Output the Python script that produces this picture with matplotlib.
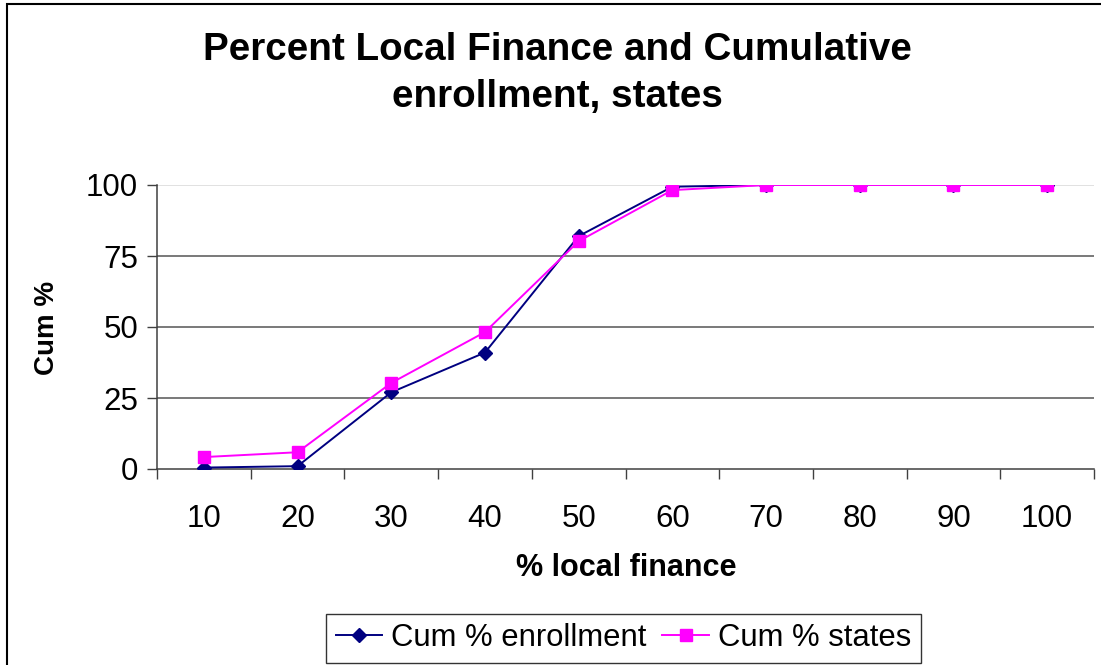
import matplotlib
matplotlib.use('Agg')
import matplotlib.pyplot as plt
from matplotlib.patches import Rectangle

plt.rcParams['font.family'] = ['Liberation Sans', 'DejaVu Sans']

# data
categories = ['10', '20', '30', '40', '50', '60', '70', '80', '90', '100']
cum_enrollment = [0.5, 1.0, 27.0, 41.0, 82.0, 99.4, 100, 100, 100, 100]
cum_states = [4.2, 5.9, 30.3, 48.2, 80.2, 98.2, 100, 100, 100, 100]
y_ticks = [0, 25, 50, 75, 100]

W, H = 1101, 665
fig = plt.figure(figsize=(W / 100, H / 100), dpi=100)
fig.patch.set_facecolor('white')

# outer chart border (cut off at right/bottom like the original)
fig.patches.append(Rectangle((7 / W, -0.05), 1.2, 1 - 4 / H + 0.05,
                             transform=fig.transFigure, fill=False,
                             edgecolor='black', linewidth=1.5))

ax = fig.add_axes([157 / W, 1 - 469 / H, (1094 - 157) / W, (469 - 185) / H])
x = list(range(len(categories)))

# gridlines
for yv in y_ticks[1:-1]:
    ax.axhline(yv, color='#555555', linewidth=1.1, zorder=1)
ax.axhline(100, color='#d8d8d8', linewidth=1.1, zorder=1)

ax.plot(x, cum_enrollment, color='#000080', linewidth=1.4, marker='D',
        markersize=7, label='Cum % enrollment', zorder=3)
ax.plot(x, cum_states, color='#FF00FF', linewidth=1.4, marker='s',
        markersize=8, label='Cum % states', zorder=4)

ax.set_xlim(-0.5, len(categories) - 0.5)
ax.set_ylim(0, 100)
ax.set_yticks(y_ticks)
ax.set_xticks(x)
ax.set_xticklabels(categories)
ax.set_xticks([i - 0.5 for i in range(len(categories) + 1)], minor=True)
ax.tick_params(axis='x', which='major', length=0, labelsize=22.5, pad=25)
ax.tick_params(axis='x', which='minor', length=7.5, width=1, color='#404040',
               direction='out')
ax.tick_params(axis='y', length=7.5, width=1, color='#404040', labelsize=22.5,
               pad=6)

for s in ['top', 'right']:
    ax.spines[s].set_visible(False)
for s in ['left', 'bottom']:
    ax.spines[s].set_color('#404040')
    ax.spines[s].set_linewidth(1.1)

fig.text(557 / W, 1 - 50 / H, 'Percent Local Finance and Cumulative',
         ha='center', va='center', fontsize=27.8, fontweight='bold')
fig.text(557 / W, 1 - 97 / H, 'enrollment, states',
         ha='center', va='center', fontsize=27.8, fontweight='bold')

fig.text(626 / W, 1 - 568 / H, '% local finance', ha='center', va='center',
         fontsize=22, fontweight='bold')
fig.text(47 / W, 1 - 328 / H, 'Cum %', ha='center', va='center',
         rotation=90, fontsize=20, fontweight='bold')

leg = fig.legend(loc='upper center', bbox_to_anchor=(623.5 / W, 1 - 614 / H),
                 ncol=2, fontsize=22.3, frameon=True, fancybox=False,
                 handlelength=1.5, handletextpad=0.3, columnspacing=0.5,
                 borderpad=0.3, borderaxespad=0)
leg.get_frame().set_edgecolor('black')
leg.get_frame().set_linewidth(1.0)

fig.savefig('out.png', dpi=100)
